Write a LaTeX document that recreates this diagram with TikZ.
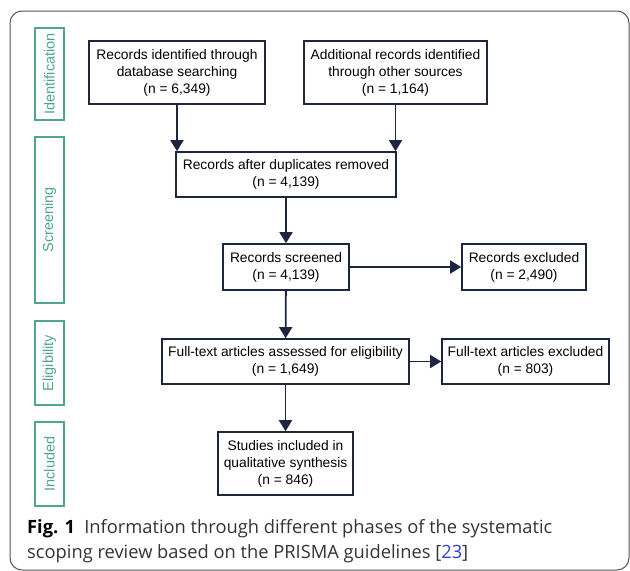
\documentclass[tikz,border=0pt]{standalone}
\usepackage{fontspec}
\setmainfont{Liberation Sans}
\newfontfamily\capfont{Open Sans}
\usetikzlibrary{arrows.meta}
\definecolor{navy}{HTML}{1C2640}
\definecolor{phasegreen}{HTML}{4FA592}
\definecolor{framegray}{HTML}{555555}
\definecolor{citeblue}{HTML}{2B3FE0}
\definecolor{captext}{HTML}{333333}

\tikzset{
  flowbox/.style={draw=navy,line width=1.6pt,align=center,inner sep=2pt,
    font=\fontsize{13.8}{17}\selectfont,text=black},
  phasebox/.style={draw=phasegreen,line width=1.5pt,minimum width=29pt,
    rotate=90,font=\fontsize{14.5}{16}\selectfont,text=phasegreen,inner sep=0pt},
  flowarrow/.style={draw=navy,line width=1.8pt,-{Triangle[width=13pt,length=11pt]}}
}

\begin{document}
\begin{tikzpicture}[x=1pt,y=-1pt]
\useasboundingbox (0,0) rectangle (630,571);
\draw[framegray,line width=1pt,rounded corners=12pt] (10,11) rectangle (629,570);

% phases
\node[phasebox,minimum height=29pt,minimum width=92pt] (identification) at (49.5,74) {Identification};
\node[phasebox,minimum height=29pt,minimum width=166pt] (screening) at (49.5,220) {Screening};
\node[phasebox,minimum height=29pt,minimum width=84pt] (eligibility) at (49.5,363) {Eligibility};
\node[phasebox,minimum height=29pt,minimum width=84pt] (included) at (49.5,464) {Included};

% boxes
\node[flowbox,minimum width=176pt,minimum height=63pt] (database) at (177,72.5)
  {Records identified through\\database searching\\(n = 6,349)};
\node[flowbox,minimum width=183pt,minimum height=63pt] (other) at (395.5,72.5)
  {Additional records identified\\through other sources\\(n = 1,164)};
\node[flowbox,minimum width=220pt,minimum height=45pt] (dedup) at (286,174.5)
  {Records after duplicates removed\\(n = 4,139)};
\node[flowbox,minimum width=126pt,minimum height=46pt] (screened) at (286,267)
  {Records screened\\(n = 4,139)};
\node[flowbox,minimum width=124pt,minimum height=46pt] (excluded) at (524,267)
  {Records excluded\\(n = 2,490)};
\node[flowbox,minimum width=247pt,minimum height=45pt] (fulltext) at (285.5,361.5)
  {Full-text articles assessed for eligibility\\(n = 1,649)};
\node[flowbox,minimum width=167pt,minimum height=45pt] (fullexcl) at (525.5,361.5)
  {Full-text articles excluded\\(n = 803)};
\node[flowbox,minimum width=135pt,minimum height=63pt] (synthesis) at (285.5,463.5)
  {Studies included in\\qualitative synthesis\\(n = 846)};

% arrows
\draw[flowarrow] (database.south) -- (database.south |- dedup.north);
\draw[flowarrow] (other.south) -- (other.south |- dedup.north);
\draw[flowarrow] (dedup) -- (screened);
\draw[flowarrow] (screened) -- (excluded);
\draw[flowarrow] (screened) -- (fulltext);
\draw[flowarrow] (fulltext) -- (fullexcl);
\draw[flowarrow] (fulltext) -- (synthesis);

% caption
\node[anchor=base west,inner sep=0pt,font=\capfont\fontsize{18.3}{25}\selectfont,text=captext] (capone) at (27,533)
  {\textbf{\color{black}Fig. 1}\enspace Information through different phases of the systematic};
\node[anchor=base west,inner sep=0pt,font=\capfont\fontsize{18.3}{25}\selectfont,text=captext] (captwo) at (27,558)
  {scoping review based on the PRISMA guidelines [{\color{citeblue}23}]};
\end{tikzpicture}
\end{document}
